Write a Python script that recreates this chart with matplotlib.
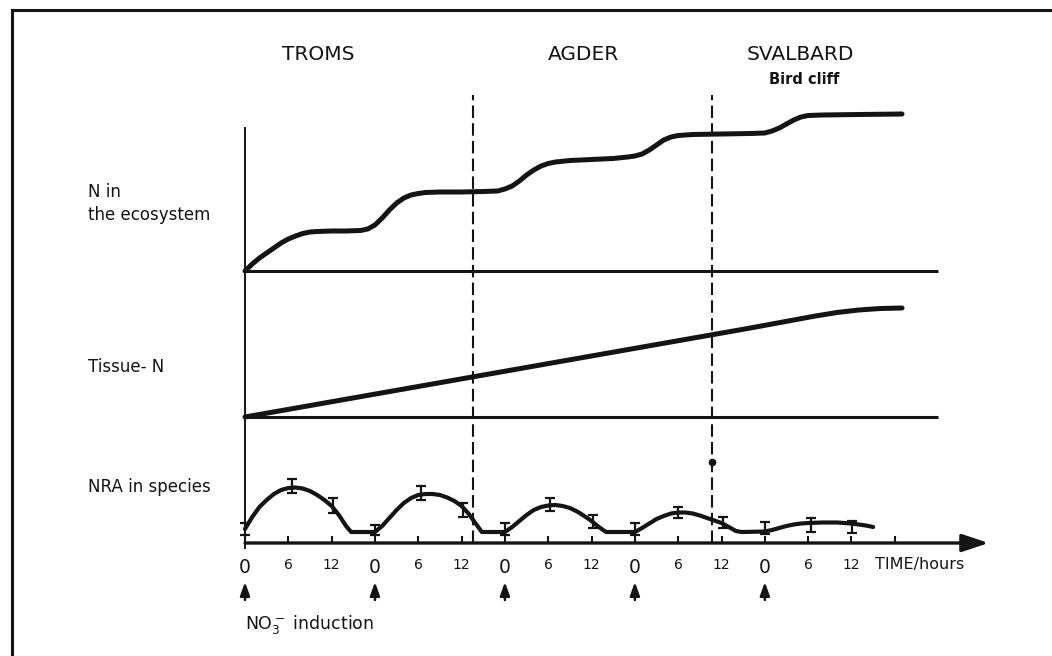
import matplotlib
matplotlib.use('Agg')
import matplotlib.pyplot as plt
from matplotlib.lines import Line2D

# N pool in the ecosystem, stepping up after each nitrate pulse
hours_n = [0, 1, 2, 3, 4, 5, 6, 7, 8, 9, 10, 12, 14, 16,
           17, 18, 19, 20, 21, 22, 23, 24, 25, 27, 30, 33, 35,
           36, 37, 38, 39, 40, 41, 42, 43, 45, 48, 51, 53,
           54, 55, 56, 57, 58, 59, 60, 62, 66, 70, 72,
           73, 74, 75, 76, 77, 78, 80, 85, 91]
n_eco = [0, 7, 13, 18, 23, 28, 32, 35, 37.5, 39, 39.5, 40, 40, 40.5,
         42, 46, 53, 61, 68, 73, 76, 77.5, 78.5, 79, 79, 79.5, 80,
         82, 85, 90, 96, 101, 105, 107.5, 109, 110.5, 111.5, 112.5, 114,
         115, 117, 121, 126, 131, 134, 135.5, 136.5, 137, 137.5, 138,
         140, 143, 147, 151, 154, 155.5, 156, 156.5, 157]

# tissue N
hours_tissue = [0, 70, 73, 76, 79, 82, 85, 88, 91]
tissue_n = [0, 89, 93, 97, 101, 104.5, 107, 108.5, 109]

# nitrate reductase activity
hours_nra = [0, 1, 2, 3, 4, 5, 6, 7, 8, 9, 10, 11, 12, 13, 14, 14.7, 18,
             19, 20, 21, 22, 23, 24, 25, 26, 27, 28, 29, 30, 31, 32, 32.8, 36,
             37, 38, 39, 40, 41, 42, 43, 44, 45, 46, 47, 48, 49, 50, 54,
             55, 56, 57, 58, 59, 60, 61, 62, 63, 64, 65, 66, 67, 68, 68.8, 72,
             73, 74, 75, 76, 77, 78, 80, 82, 84, 86, 87]
nra = [14, 26, 36, 43, 49, 53, 55, 55.5, 54.5, 52, 48, 43, 37, 28, 17, 11, 11,
       17, 25, 33, 40, 45, 48, 49, 49, 48, 45.5, 42, 37, 29, 19, 11, 11,
       16, 22, 28, 33, 36, 37.5, 38, 37, 35, 31.5, 27, 22, 16, 11, 11,
       15, 19.5, 24, 27, 29.5, 30.5, 30.5, 29.5, 27.5, 25, 22.5, 20, 16, 12, 11, 11.5,
       13, 15, 17, 18.5, 19.5, 20, 20.5, 20.5, 19.5, 17.5, 16]

bar_hours = [0, 6.5, 12.2, 18, 24.4, 30.2, 36, 42.2, 48.2, 54, 60, 66.2, 72, 78.4, 84.1]
bar_mid = [14, 57, 37.5, 13, 50, 33, 14, 38.5, 21.5, 14, 30.5, 20.5, 15, 18, 16]
bar_err = [6, 7, 7.5, 5, 7, 7, 6, 6.5, 6.5, 6, 5.5, 5.5, 6, 7, 6]

tick_hours = list(range(0, 91, 6))
tick_labels = ['0', '6', '12'] * 5 + ['']
induction_hours = [0, 18, 36, 54, 72]

region_names = ['TROMS', 'AGDER', 'SVALBARD']
region_name_hours = [10.1, 46.9, 76.9]
divider_hours = [31.6, 64.7]
dot_hour, dot_level = 64.7, 81

ink = '#141414'
W, H = 1052, 656
px_per_hour = 7.22
t0_px = 245
x_lo, x_hi = -1, 103
base_end = 96

fig = plt.figure(figsize=(W / 100, H / 100), dpi=100)
left = (t0_px + x_lo * px_per_hour) / W
width = (x_hi - x_lo) * px_per_hour / W


def panel(top_px, base_px):
    ax = fig.add_axes([left, 1 - base_px / H, width, (base_px - top_px) / H])
    ax.set_xlim(x_lo, x_hi)
    ax.set_ylim(0, base_px - top_px)
    ax.patch.set_visible(False)
    for s in ax.spines.values():
        s.set_visible(False)
    ax.set_yticks([])
    return ax


ax_n = panel(95, 271)
ax_t = panel(271, 417)
ax_r = panel(417, 543)
ax_n.set_xticks([])
ax_t.set_xticks([])

# top panel
ax_n.plot(hours_n, n_eco, color=ink, lw=3.6, solid_capstyle='round',
          solid_joinstyle='round', clip_on=False)
ax_n.hlines(0, 0, base_end, color=ink, linewidth=2.2, clip_on=False)

# middle panel
ax_t.plot(hours_tissue, tissue_n, color=ink, lw=3.6, solid_capstyle='round',
          solid_joinstyle='round', clip_on=False)
ax_t.hlines(0, 0, base_end, color=ink, linewidth=2.2, clip_on=False)

# bottom panel
ax_r.plot(hours_nra, nra, color=ink, lw=3.0, solid_capstyle='round',
          solid_joinstyle='round', clip_on=False)
ax_r.errorbar(bar_hours, bar_mid, yerr=bar_err, fmt='none', ecolor=ink,
              elinewidth=1.6, capsize=3.5, capthick=1.6, clip_on=False)
ax_r.plot([dot_hour], [dot_level], 'o', ms=4.5, color=ink, clip_on=False)

ax_r.annotate('', xy=(x_hi, 0), xytext=(0, 0),
              arrowprops=dict(arrowstyle='-|>,head_length=0.9,head_width=0.3',
                              lw=2.4, color=ink, mutation_scale=18,
                              shrinkA=0, shrinkB=0),
              annotation_clip=False)

ax_r.set_xticks(tick_hours)
ax_r.set_xticklabels(tick_labels)
ax_r.tick_params(axis='x', direction='in', length=5, width=1.5, pad=11,
                 labelsize=10, colors=ink)
for lab in ax_r.get_xticklabels():
    if lab.get_text() == '0':
        lab.set_fontsize(13.5)

xt = ax_r.get_xaxis_transform()
panel_px = 126

# vertical axis and region dividers
ax_r.axvline(0, ymin=-5 / panel_px, ymax=(543 - 128) / panel_px,
             color=ink, lw=1.4, clip_on=False)
for d in divider_hours:
    ax_r.axvline(d, ymin=0, ymax=(543 - 95) / panel_px, color=ink, lw=1.5,
                 ls=(0, (6, 2.5)), clip_on=False)

# nitrate pulses
for h in induction_hours:
    ax_r.annotate('', xy=(h, -39 / panel_px), xycoords=xt,
                  xytext=(h, -57 / panel_px), textcoords=xt,
                  arrowprops=dict(arrowstyle='-|>,head_length=0.5,head_width=0.18',
                                  lw=1.8, color=ink, mutation_scale=16,
                                  shrinkA=0, shrinkB=0),
                  annotation_clip=False)

ax_r.text(0, -82 / panel_px, r'NO$_3^-$ induction', transform=xt,
          ha='left', va='center', fontsize=12.5, color=ink)
ax_r.text(87.3, -22 / panel_px, 'TIME/hours', transform=xt,
          ha='left', va='center', fontsize=11.5, color=ink)

# region headings
xn = ax_n.get_xaxis_transform()
for name, h in zip(region_names, region_name_hours):
    ax_n.text(h, (271 - 55) / 176, name, transform=xn, ha='center',
              va='center', fontsize=14.5, color=ink)
ax_n.text(region_name_hours[2] + 0.6, (271 - 80) / 176, 'Bird cliff',
          transform=xn, ha='center', va='center', fontsize=10.5,
          fontweight='bold', color=ink)

# row labels
fig.text(88 / W, 1 - 203.5 / H, 'N in\nthe ecosystem', ha='left',
         va='center', fontsize=12, linespacing=1.4, color=ink)
fig.text(88 / W, 1 - 367 / H, 'Tissue- N', ha='left', va='center',
         fontsize=12, color=ink)
fig.text(88 / W, 1 - 487 / H, 'NRA in species', ha='left', va='center',
         fontsize=12, color=ink)

# outer frame
fig.add_artist(Line2D([12 / W, 1], [1 - 10 / H, 1 - 10 / H], color=ink, lw=2.2))
fig.add_artist(Line2D([12 / W, 12 / W], [0, 1 - 10 / H], color=ink, lw=2.2))

fig.savefig('out.png', dpi=100)
